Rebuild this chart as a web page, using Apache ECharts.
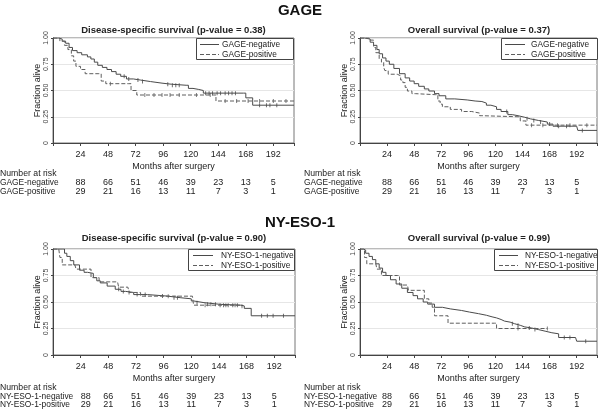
<!DOCTYPE html>
<html>
<head>
<meta charset="utf-8">
<script src="https://cdn.jsdelivr.net/npm/echarts@6/dist/echarts.min.js"></script>
<style>
html,body{margin:0;padding:0;background:#fff;}
#chart{width:600px;height:409px;}
</style>
</head>
<body>
<div id="chart"></div>
<script>
// ---------- data ----------
const xTicks = [24, 48, 72, 96, 120, 144, 168, 192];

const gageNegRisk = [88, 66, 51, 46, 39, 23, 13, 5];
const gagePosRisk = [29, 21, 16, 13, 11, 7, 3, 1];
const nyNegRisk = [88, 66, 51, 46, 39, 23, 13, 5];
const nyPosRisk = [29, 21, 16, 13, 11, 7, 3, 1];

// GAGE, disease-specific survival
const gageNegDSS = [[0,1],[5,0.99],[8,0.97],[11,0.95],[14,0.91],[17,0.88],[21,0.86],[25,0.84],[30,0.82],[33,0.80],[36,0.77],[39,0.74],[43,0.72],[47,0.70],[51,0.68],[55,0.655],[59,0.635],[64,0.61],[70,0.60],[76,0.585],[85,0.57],[95,0.56],[103,0.55],[116,0.55],[118,0.52],[122,0.51],[127,0.50],[131,0.475],[166,0.475],[168,0.43],[174,0.36],[210,0.36]];
const gagePosDSS = [[0,1],[6,0.97],[10,0.93],[13,0.89],[16,0.83],[18,0.78],[20,0.73],[24,0.70],[28,0.66],[40,0.66],[42,0.59],[46,0.565],[66,0.565],[68,0.50],[73,0.457],[140,0.457],[142,0.40],[210,0.40]];
const gageNegDSSCensor = [62, 66, 74, 78, 100, 104, 107, 110, 133, 136, 139, 143, 146, 150, 153, 156, 159, 180, 186, 189, 195];
const gagePosDSSCensor = [50, 80, 88, 95, 102, 110, 125, 137, 150, 160, 170, 180, 192, 203];

// GAGE, overall survival
const gageNegOS = [[0,1],[4,0.99],[9,0.96],[12,0.93],[15,0.89],[17,0.85],[20,0.81],[23,0.78],[26,0.75],[30,0.71],[35,0.66],[40,0.62],[44,0.59],[48,0.565],[52,0.54],[57,0.515],[61,0.495],[66,0.47],[70,0.45],[76,0.42],[84,0.41],[95,0.40],[102,0.395],[108,0.38],[112,0.36],[116,0.345],[121,0.32],[125,0.30],[131,0.27],[135,0.26],[140,0.245],[146,0.23],[151,0.215],[158,0.20],[166,0.18],[171,0.16],[192,0.16],[193,0.12],[210,0.12]];
const gagePosOS = [[0,1],[8,0.98],[12,0.91],[14,0.86],[17,0.80],[19,0.77],[21,0.72],[22,0.69],[25,0.655],[33,0.64],[36,0.60],[38,0.575],[40,0.53],[42,0.495],[46,0.47],[49,0.46],[67,0.46],[69,0.40],[71,0.37],[73,0.345],[80,0.32],[90,0.30],[99,0.285],[106,0.26],[108,0.25],[140,0.25],[142,0.21],[147,0.17],[210,0.17]];
const gageNegOSCensor = [130, 148, 154, 160, 168, 176, 183, 197];
const gagePosOSCensor = [152, 162, 175, 186, 201];

// NY-ESO-1, disease-specific survival
const nyNegDSS = [[0,1],[8,1],[10,0.96],[12,0.93],[15,0.89],[18,0.85],[23,0.80],[27,0.78],[30,0.77],[35,0.73],[38,0.70],[41,0.68],[47,0.65],[54,0.62],[59,0.60],[63,0.59],[70,0.57],[82,0.556],[99,0.54],[111,0.53],[120,0.51],[122,0.494],[131,0.478],[145,0.47],[163,0.463],[166,0.44],[172,0.37],[210,0.37]];
const nyPosDSS = [[0,1],[5,1],[6,0.92],[8,0.85],[19,0.85],[20,0.81],[31,0.81],[33,0.73],[40,0.69],[56,0.69],[57,0.64],[65,0.64],[66,0.59],[74,0.59],[76,0.555],[121,0.555],[122,0.47],[164,0.46]];
const nyNegDSSCensor = [57, 61, 66, 73, 80, 95, 105, 108, 125, 134, 137, 141, 145, 148, 152, 156, 160, 181, 186, 191, 200];
const nyPosDSSCensor = [100, 132, 150, 158, 164];

// NY-ESO-1, overall survival
const nyNegOS = [[0,1],[3,0.99],[5,0.96],[8,0.93],[11,0.90],[14,0.86],[17,0.82],[20,0.78],[23,0.75],[27,0.71],[32,0.67],[37,0.63],[42,0.59],[47,0.56],[51,0.53],[56,0.50],[60,0.48],[66,0.45],[73,0.435],[80,0.42],[90,0.405],[97,0.39],[105,0.375],[112,0.36],[117,0.35],[121,0.335],[125,0.32],[128,0.31],[133,0.295],[137,0.28],[142,0.265],[146,0.255],[152,0.24],[158,0.225],[164,0.21],[170,0.20],[176,0.165],[191,0.165],[192,0.13],[210,0.13]];
const nyPosOS = [[0,1],[4,0.92],[6,0.86],[14,0.86],[15,0.81],[19,0.75],[33,0.75],[35,0.66],[42,0.66],[43,0.61],[55,0.61],[57,0.53],[61,0.49],[64,0.45],[66,0.37],[76,0.37],[78,0.30],[119,0.30],[121,0.25],[166,0.25]];
const nyNegOSCensor = [135, 140, 150, 155, 181, 186, 200];
const nyPosOSCensor = [140, 166];

// ---------- chart ----------
const FONT = '"Liberation Sans", Arial, sans-serif';
const grids = [
  {left: 53, top: 38, width: 241, height: 105},
  {left: 360, top: 38, width: 238, height: 105},
  {left: 53, top: 249, width: 242, height: 106},
  {left: 360, top: 249, width: 238, height: 106}
];
const panelTitles = [
  'Disease-specific survival (p-value = 0.38)',
  'Overall survival (p-value = 0.37)',
  'Disease-specific survival (p-value = 0.90)',
  'Overall survival (p-value = 0.99)'
];
const negNames = ['GAGE-negative','GAGE-negative','NY-ESO-1-negative','NY-ESO-1-negative'];
const posNames = ['GAGE-positive','GAGE-positive','NY-ESO-1-positive','NY-ESO-1-positive'];
const negData = [gageNegDSS, gageNegOS, nyNegDSS, nyNegOS];
const posData = [gagePosDSS, gagePosOS, nyPosDSS, nyPosOS];
const negCensor = [gageNegDSSCensor, gageNegOSCensor, nyNegDSSCensor, nyNegOSCensor];
const posCensor = [gagePosDSSCensor, gagePosOSCensor, nyPosDSSCensor, nyPosOSCensor];
const negRisk = [gageNegRisk, gageNegRisk, nyNegRisk, nyNegRisk];
const posRisk = [gagePosRisk, gagePosRisk, nyPosRisk, nyPosRisk];

const NEG_COLOR = '#4a4a4a';
const POS_COLOR = '#5e5e5e';
const POS_DASH = [4, 2];

// value of a step (Kaplan-Meier) curve at time t
function survAt(curve, t) {
  let s = curve[0][1];
  for (const p of curve) { if (p[0] <= t) s = p[1]; else break; }
  return s;
}

const chart = echarts.init(document.getElementById('chart'), null, {renderer: 'canvas'});

const option = {
  animation: false,
  backgroundColor: '#fff',
  textStyle: {fontFamily: FONT},
  title: [
    {text: 'GAGE', left: 'center', top: 3, padding: 0, textStyle: {fontSize: 15, fontWeight: 'bold', color: '#111', fontFamily: FONT}},
    {text: 'NY-ESO-1', left: 'center', top: 215, padding: 0, textStyle: {fontSize: 15, fontWeight: 'bold', color: '#111', fontFamily: FONT}}
  ].concat(grids.map((g, i) => ({
    text: panelTitles[i],
    left: g.left + g.width / 2,
    textAlign: 'center',
    top: i < 2 ? 25 : 233,
    padding: 0,
    textStyle: {fontSize: 9.5, fontWeight: 'bold', color: '#222', fontFamily: FONT}
  }))),
  grid: grids.map(g => Object.assign({show: true, borderColor: '#777', borderWidth: 1, backgroundColor: 'transparent'}, g)),
  xAxis: grids.map((g, i) => ({
    type: 'value', gridIndex: i, min: 0, max: 210, interval: 24,
    axisLine: {show: true, onZero: false, lineStyle: {color: '#444', width: 1}},
    axisTick: {show: true, length: 3, lineStyle: {color: '#444'}},
    axisLabel: {
      fontSize: 9, color: '#222', margin: 7, fontFamily: FONT,
      formatter: v => (xTicks.indexOf(v) >= 0 ? String(v) : '')
    },
    splitLine: {show: false},
    name: 'Months after surgery', nameLocation: 'middle', nameGap: 19,
    nameTextStyle: {fontSize: 9, color: '#222', fontFamily: FONT}
  })),
  yAxis: grids.map((g, i) => ({
    type: 'value', gridIndex: i, min: 0, max: 1, interval: 0.25,
    axisLine: {show: true, lineStyle: {color: '#444', width: 1}},
    axisTick: {show: true, length: 2, lineStyle: {color: '#444'}},
    axisLabel: {
      rotate: 90, fontSize: 7, color: '#444', margin: 3, fontFamily: FONT,
      formatter: v => (v === 0 ? '0' : v.toFixed(2))
    },
    splitLine: {show: true, lineStyle: {color: '#e6e6e6', width: 1}},
    name: 'Fraction alive', nameLocation: 'middle', nameGap: 9,
    nameTextStyle: {fontSize: 9, color: '#222', fontFamily: FONT}
  })),
  series: []
};

grids.forEach((g, i) => {
  option.series.push({
    type: 'line', name: negNames[i], xAxisIndex: i, yAxisIndex: i,
    data: negData[i], step: 'end', symbol: 'none', showSymbol: false,
    lineStyle: {color: NEG_COLOR, width: 1, type: 'solid'},
    itemStyle: {color: NEG_COLOR}
  });
  option.series.push({
    type: 'line', name: posNames[i], xAxisIndex: i, yAxisIndex: i,
    data: posData[i], step: 'end', symbol: 'none', showSymbol: false,
    lineStyle: {color: POS_COLOR, width: 1, type: POS_DASH},
    itemStyle: {color: POS_COLOR}
  });
  option.series.push({
    type: 'scatter', name: negNames[i] + ' censored', xAxisIndex: i, yAxisIndex: i,
    data: negCensor[i].map(t => [t, survAt(negData[i], t)]),
    symbol: 'rect', symbolSize: [1, 4], itemStyle: {color: NEG_COLOR}, silent: true
  });
  option.series.push({
    type: 'scatter', name: posNames[i] + ' censored', xAxisIndex: i, yAxisIndex: i,
    data: posCensor[i].map(t => [t, survAt(posData[i], t)]),
    symbol: 'rect', symbolSize: [1, 4], itemStyle: {color: POS_COLOR}, silent: true
  });
});

chart.setOption(option);

// ---------- legends and number-at-risk tables ----------
const graphics = [];
const txt = (text, x, y, align, size) => ({
  type: 'text', x: x, y: y, z: 100,
  style: {text: text, fill: '#222', font: size + 'px ' + FONT, textAlign: align, textVerticalAlign: 'middle'}
});
const legendBox = [
  {w: 98, line: [4, 23], text: 26},
  {w: 97, line: [4, 24], text: 30},
  {w: 107, line: [5, 25], text: 33},
  {w: 104, line: [5, 24], text: 31}
];
grids.forEach((g, i) => {
  const right = g.left + g.width;
  const L = legendBox[i];
  const lx = right - L.w;
  const ty = g.top;
  graphics.push({type: 'rect', z: 90, shape: {x: lx + 0.5, y: ty + 0.5, width: L.w - 1, height: 21},
    style: {fill: '#fff', stroke: '#444', lineWidth: 1}});
  graphics.push({type: 'line', z: 100, shape: {x1: lx + L.line[0], y1: ty + 6.5, x2: lx + L.line[1], y2: ty + 6.5},
    style: {stroke: NEG_COLOR, lineWidth: 1}});
  graphics.push({type: 'line', z: 100, shape: {x1: lx + L.line[0], y1: ty + 16.5, x2: lx + L.line[1], y2: ty + 16.5},
    style: {stroke: POS_COLOR, lineWidth: 1, lineDash: POS_DASH}});
  graphics.push(txt(negNames[i], lx + L.text, ty + 6.5, 'left', 8.3));
  graphics.push(txt(posNames[i], lx + L.text, ty + 16.5, 'left', 8.3));
});

const tableY = [[174, 183, 191.5], [174, 183, 191.5], [388, 396.5, 404.5], [388, 396.5, 404.5]];
const labelX = [0, 304, 0, 304];
grids.forEach((g, i) => {
  const ys = tableY[i];
  graphics.push(txt('Number at risk', labelX[i], ys[0], 'left', 8.7));
  graphics.push(txt(negNames[i], labelX[i], ys[1], 'left', 8.4));
  graphics.push(txt(posNames[i], labelX[i], ys[2], 'left', 8.4));
  xTicks.forEach((m, k) => {
    let px = chart.convertToPixel({xAxisIndex: i}, m);
    if (k === 0 && i === 2) px += 5;
    graphics.push(txt(String(negRisk[i][k]), px, ys[1], 'center', 9));
    graphics.push(txt(String(posRisk[i][k]), px, ys[2], 'center', 9));
  });
});
chart.setOption({graphic: graphics});
</script>
</body>
</html>
